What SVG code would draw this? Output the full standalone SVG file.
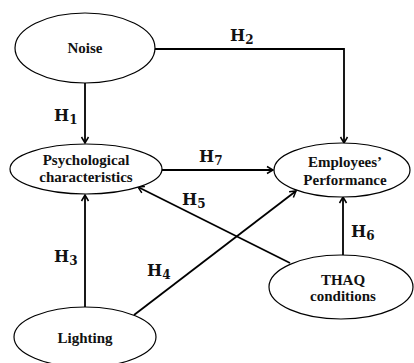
<svg xmlns="http://www.w3.org/2000/svg" width="414" height="363" viewBox="0 0 414 363">
<defs>
<marker id="arr" markerWidth="10" markerHeight="10" refX="8" refY="5" orient="auto" markerUnits="userSpaceOnUse">
<path d="M2,1.5 L8,5 L2,8.5" fill="none" stroke="#000" stroke-width="1.5"/>
</marker>
</defs>
<style>
.node ellipse{fill:#fff;stroke:#000;stroke-width:1.2}
.node text{font-family:"Liberation Serif","Times New Roman",serif;font-weight:bold;font-size:15px;text-anchor:middle;fill:#111}
.conn path{fill:none;stroke:#000;stroke-width:1.8}
.lbl{font-family:"DejaVu Serif","Liberation Serif",serif;font-weight:bold;font-size:16px;fill:#111}
.sub{font-size:12px}
</style>
<rect width="414" height="363" fill="#fff"/>
<g id="connectors" class="conn">
<path d="M154,49 H344 V143" marker-end="url(#arr)"/>
<path d="M85,83 V143" marker-end="url(#arr)"/>
<path d="M162,170 H273" marker-end="url(#arr)"/>
<path d="M85,307 V195" marker-end="url(#arr)"/>
<path d="M134,315 L296,191" marker-end="url(#arr)"/>
<path d="M290,263 L138,187" marker-end="url(#arr)"/>
<path d="M343,255 V197" marker-end="url(#arr)"/>
</g>
<g id="labels">
<text class="lbl" x="230" y="41">H<tspan class="sub" dy="3">2</tspan></text>
<text class="lbl" x="54" y="121">H<tspan class="sub" dy="3">1</tspan></text>
<text class="lbl" x="199" y="162">H<tspan class="sub" dy="3">7</tspan></text>
<text class="lbl" x="182" y="205">H<tspan class="sub" dy="3">5</tspan></text>
<text class="lbl" x="54" y="262">H<tspan class="sub" dy="3">3</tspan></text>
<text class="lbl" x="147" y="276">H<tspan class="sub" dy="3">4</tspan></text>
<text class="lbl" x="351" y="237">H<tspan class="sub" dy="3">6</tspan></text>
</g>
<g id="noise" class="node">
<ellipse cx="85" cy="48" rx="70" ry="35"/>
<text x="85" y="53">Noise</text>
</g>
<g id="psych" class="node">
<ellipse cx="86" cy="169" rx="76" ry="25"/>
<text x="86" y="165">Psychological</text>
<text x="86" y="182">characteristics</text>
</g>
<g id="employees" class="node">
<ellipse cx="342" cy="170" rx="68" ry="27"/>
<text x="345" y="167">Employees’</text>
<text x="345" y="185">Performance</text>
</g>
<g id="thaq" class="node">
<ellipse cx="341" cy="287" rx="72" ry="32"/>
<text x="343" y="285">THAQ</text>
<text x="343" y="301">conditions</text>
</g>
<g id="lighting" class="node">
<ellipse cx="85" cy="337" rx="71" ry="30"/>
<text x="85" y="343">Lighting</text>
</g>
</svg>
